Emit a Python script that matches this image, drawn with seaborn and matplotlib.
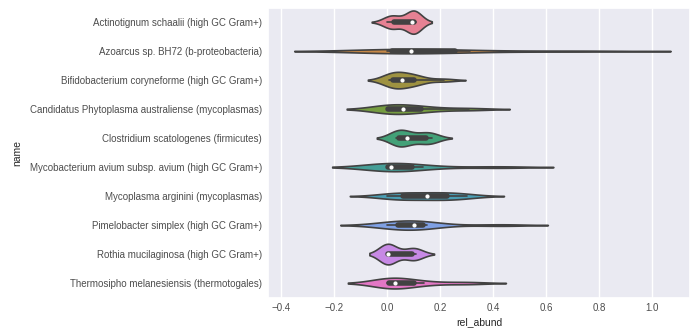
import pandas as pd
import numpy as np
import matplotlib
matplotlib.use("Agg")
import matplotlib.pyplot as plt
import seaborn as sns

# species names (y axis categories)
names = [
    "Actinotignum schaalii (high GC Gram+)",
    "Azoarcus sp. BH72 (b-proteobacteria)",
    "Bifidobacterium coryneforme (high GC Gram+)",
    "Candidatus Phytoplasma australiense (mycoplasmas)",
    "Clostridium scatologenes (firmicutes)",
    "Mycobacterium avium subsp. avium (high GC Gram+)",
    "Mycoplasma arginini (mycoplasmas)",
    "Pimelobacter simplex (high GC Gram+)",
    "Rothia mucilaginosa (high GC Gram+)",
    "Thermosipho melanesiensis (thermotogales)",
]

# relative abundance samples per species (estimated from the violins)
actinotignum = [0.0, 0.02, 0.03, 0.09, 0.095, 0.1, 0.105, 0.11]
azoarcus = [0.0, 0.01, 0.026, 0.089, 0.2, 0.314, 0.72]
bifidobacterium = [0.008, 0.012, 0.02, 0.03, 0.05, 0.06, 0.09, 0.106, 0.12, 0.215]
candidatus = [0.0, 0.0, 0.01, 0.059, 0.1, 0.155, 0.31]
clostridium = [0.035, 0.04, 0.045, 0.06, 0.088, 0.145, 0.155, 0.17]
mycobacterium = [0.0, 0.0, 0.01, 0.015, 0.05, 0.136, 0.42]
mycoplasma = [0.0, 0.04, 0.065, 0.13, 0.17, 0.22, 0.25, 0.3]
pimelobacter = [0.0, 0.03, 0.047, 0.09, 0.114, 0.13, 0.15, 0.43]
rothia = [0.0, 0.0, 0.002, 0.004, 0.006, 0.09, 0.1, 0.11]
thermosipho = [0.0, 0.0, 0.015, 0.03, 0.06, 0.14, 0.3]

samples = [actinotignum, azoarcus, bifidobacterium, candidatus, clostridium,
           mycobacterium, mycoplasma, pimelobacter, rothia, thermosipho]

# long-form table for seaborn
rows = []
for n, vals in zip(names, samples):
    for v in vals:
        rows.append({"name": n, "rel_abund": v})
df = pd.DataFrame(rows)

sns.set_theme(style="darkgrid")
plt.rcParams['font.family'] = ['Liberation Sans', 'DejaVu Sans']

fig, ax = plt.subplots(figsize=(6.98, 3.31), dpi=100)
sns.violinplot(data=df, x="rel_abund", y="name", hue="name", palette="husl",
               legend=False, linewidth=1.2, common_norm=True,
               inner_kws={"box_width": 4, "whis_width": 1.2, "marker": "o",
                          "markersize": 2.2},
               ax=ax)

ax.set_xlim(-0.45, 1.145)
ax.tick_params(axis="x", labelsize=7, colors=".3", length=0, pad=4)
ax.tick_params(axis="y", labelsize=7, colors=".3", length=0, pad=4.5)
ax.set_xlabel("rel_abund", fontsize=7.5, color=".15", labelpad=3)
ax.set_ylabel("name", fontsize=7.5, color=".15", labelpad=5)

plt.subplots_adjust(left=0.384, right=0.989, top=0.977, bottom=0.101)
plt.savefig("out.png", dpi=100)
